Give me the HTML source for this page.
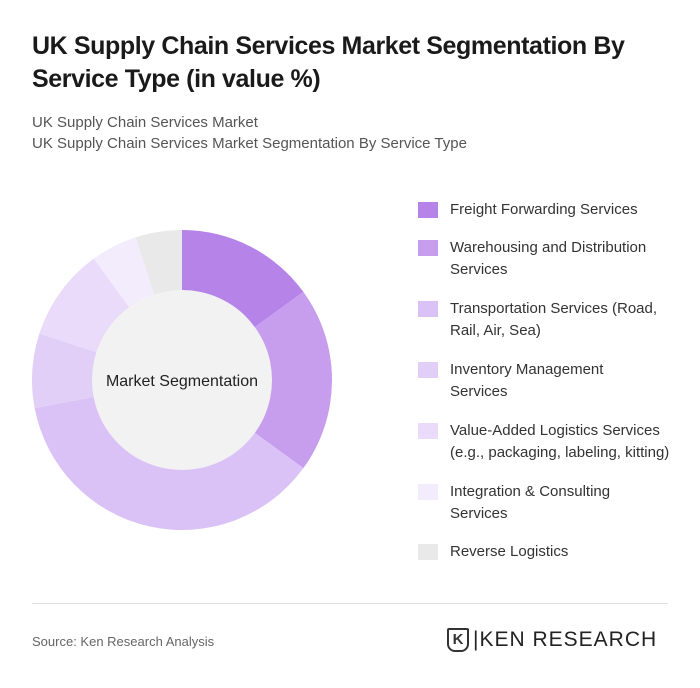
<!DOCTYPE html>
<html><head><meta charset="utf-8"><style>
body{margin:0;background:#fff;font-family:"Liberation Sans",sans-serif;}
#root{position:relative;width:700px;height:688px;overflow:hidden;}
h1{position:absolute;left:32px;top:30px;margin:0;font-size:25px;line-height:33px;font-weight:bold;color:#1a1a1a;width:640px;letter-spacing:-0.4px}
.sub{position:absolute;left:32px;font-size:15px;color:#555;}
.leg{position:absolute;left:418px;font-size:15px;color:#333;line-height:22px;width:260px}
.sw{position:absolute;left:0;top:3px;width:20px;height:16px}
</style></head><body>
<div id="root">
<h1>UK Supply Chain Services Market Segmentation By Service Type (in value %)</h1>
<div class="sub" style="top:114px">UK Supply Chain Services Market</div>
<div class="sub" style="top:135px">UK Supply Chain Services Market Segmentation By Service Type</div>
<svg id="donut" width="700" height="688" style="position:absolute;left:0;top:0"></svg>
<div id="legend"></div>
<div style="position:absolute;left:32px;top:603px;width:636px;height:1px;background:#ddd"></div>
<div style="position:absolute;left:32px;top:634px;font-size:13px;color:#666">Source: Ken Research Analysis</div>
<div style="position:absolute;left:447px;top:628px;width:22px;height:24px;border:2px solid #333;box-sizing:border-box;border-radius:2px 2px 8px 8px;font-weight:bold;font-size:15px;text-align:center;line-height:20px;color:#333">K</div>
<div style="position:absolute;left:473px;top:628px;font-size:21px;letter-spacing:1px;color:#222">|KEN RESEARCH</div>
</div>
<script>
const categories=["Freight Forwarding Services","Warehousing and Distribution Services","Transportation Services (Road, Rail, Air, Sea)","Inventory Management Services","Value-Added Logistics Services (e.g., packaging, labeling, kitting)","Integration & Consulting Services","Reverse Logistics"];
const legendLines=[["Freight Forwarding Services"],["Warehousing and Distribution","Services"],["Transportation Services (Road,","Rail, Air, Sea)"],["Inventory Management","Services"],["Value-Added Logistics Services","(e.g., packaging, labeling, kitting)"],["Integration & Consulting","Services"],["Reverse Logistics"]];
const values=[15,20,37,8,10,5,5];
const colors=["#b683e9","#c79dee","#dbc2f6","#e1cff8","#e9dbf9","#f3ecfc","#e9e9e9"];
const NS="http://www.w3.org/2000/svg";
const svg=document.getElementById('donut');
const cx=182,cy=380,R=150,r=90;
const total=values.reduce((a,b)=>a+b,0);
function pt(a,rad){return [cx+rad*Math.sin(a),cy-rad*Math.cos(a)];}
let acc=0;
values.forEach((v,i)=>{
  const a0=acc/total*2*Math.PI;acc+=v;const a1=acc/total*2*Math.PI;
  const p0=pt(a0,R),p1=pt(a1,R);const large=(a1-a0)>Math.PI?1:0;
  const p=document.createElementNS(NS,'path');
  p.setAttribute('d',`M${cx},${cy}L${p0[0]},${p0[1]}A${R},${R} 0 ${large} 1 ${p1[0]},${p1[1]}Z`);
  p.setAttribute('fill',colors[i]);
  
  
  svg.appendChild(p);
});
const c=document.createElementNS(NS,'circle');
c.setAttribute('cx',cx);c.setAttribute('cy',cy);c.setAttribute('r',r);c.setAttribute('fill','#f2f2f2');


svg.appendChild(c);
const t=document.createElementNS(NS,'text');
t.setAttribute('x',cx);t.setAttribute('y',cy+6);t.setAttribute('text-anchor','middle');
t.setAttribute('font-size','16');t.setAttribute('fill','#222');t.setAttribute('font-family','Liberation Sans, sans-serif');
t.textContent='Market Segmentation';


svg.appendChild(t);
const lg=document.getElementById('legend');
const tops=[199,237,298,359,420,481,541];
legendLines.forEach((ls,i)=>{
  const d=document.createElement('div');d.className='leg';d.style.top=tops[i]+'px';
  
  
  d.innerHTML=`<div class="sw" style="background:${colors[i]}"></div><div style="margin-left:32px">${ls.join('<br>')}</div>`;
  lg.appendChild(d);
});
</script>
</body></html>
